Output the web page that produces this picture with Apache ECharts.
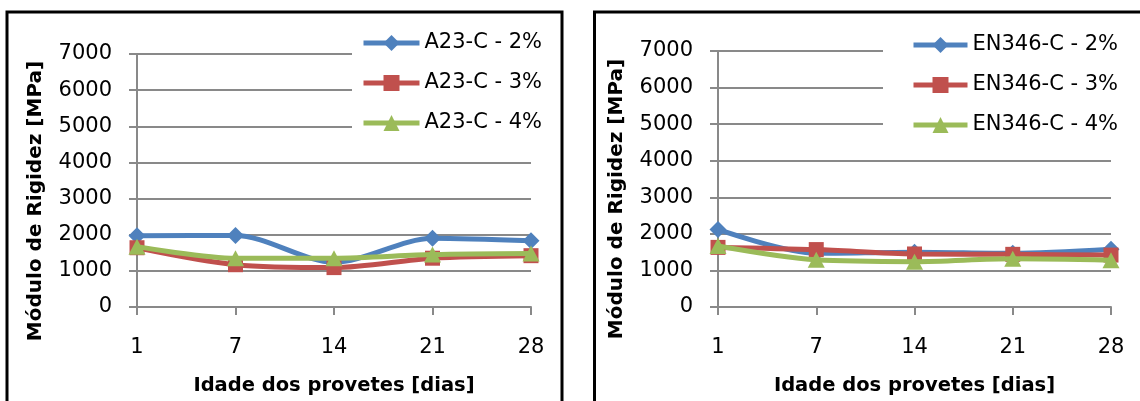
<!DOCTYPE html>
<html>
<head>
<meta charset="utf-8">
<script src="https://cdn.jsdelivr.net/npm/echarts@6/dist/echarts.min.js"></script>
<style>
html,body{margin:0;padding:0;background:#fff;}
#c{width:1140px;height:401px;}
</style>
</head>
<body>
<div id="c"></div>
<script>
// ---- data ----
const days = ['1', '7', '14', '21', '28'];
const yTicks = [0, 1000, 2000, 3000, 4000, 5000, 6000, 7000];
const namesA = ['A23-C - 2%', 'A23-C - 3%', 'A23-C - 4%'];
const namesE = ['EN346-C - 2%', 'EN346-C - 3%', 'EN346-C - 4%'];
const a23_2 = [1970, 1980, 1240, 1900, 1830];
const a23_3 = [1640, 1170, 1090, 1350, 1420];
const a23_4 = [1670, 1350, 1350, 1450, 1480];
const en_2 = [2120, 1470, 1500, 1470, 1580];
const en_3 = [1630, 1570, 1450, 1440, 1420];
const en_4 = [1670, 1290, 1240, 1320, 1280];
const xTitle = 'Idade dos provetes [dias]';
const yTitle = 'Módulo de Rigidez [MPa]';

const FONT = 'DejaVu Sans';
const colors = ['#4F81BD', '#C0504D', '#9BBB59'];
const symbols = ['diamond', 'rect', 'triangle'];
const symSizes = [[17, 17], [15, 15], [17, 16]];
const GRAY = '#898989';

function mkSeries(name, data, i, idx) {
  return {
    name: name, type: 'line', data: data,
    xAxisIndex: idx, yAxisIndex: idx,
    smooth: 0.3,
    symbol: symbols[i], symbolSize: symSizes[i],
    lineStyle: {color: colors[i], width: 5},
    itemStyle: {color: colors[i]},
    z: 2 + i
  };
}

function mkX(idx) {
  return {
    type: 'category', data: days, gridIndex: idx, boundaryGap: false,
    axisLine: {show: true, lineStyle: {color: GRAY, width: 2}},
    axisTick: {show: true, length: 8, alignWithLabel: true, lineStyle: {color: GRAY, width: 2}},
    axisLabel: {color: '#000', fontFamily: FONT, fontSize: 21, margin: 30},
    splitLine: {show: false},
    name: xTitle, nameLocation: 'middle', nameGap: 69,
    nameTextStyle: {color: '#000', fontFamily: FONT, fontSize: 19.5, fontWeight: 'bold'}
  };
}
function mkY(idx) {
  return {
    type: 'value', gridIndex: idx, min: yTicks[0], max: yTicks[yTicks.length - 1], interval: 1000,
    axisLine: {show: true, lineStyle: {color: GRAY, width: 2}},
    axisTick: {show: true, length: 8, lineStyle: {color: GRAY, width: 2}},
    axisLabel: {color: '#000', fontFamily: FONT, fontSize: 21, margin: 25, formatter: function (v) { return String(v); }},
    splitLine: {show: true, lineStyle: {color: GRAY, width: 2}}
  };
}
function mkLegend(names, left, top, padLeft, iw) {
  return {
    data: names, orient: 'vertical', left: left, top: top,
    backgroundColor: '#fff', padding: [6, 6, 10, padLeft],
    itemWidth: iw, itemHeight: 20, itemGap: 16,
    lineStyle: {width: 5},
    textStyle: {color: '#000', fontFamily: FONT, fontSize: 21, lineHeight: 24},
    z: 10
  };
}

const chart = echarts.init(document.getElementById('c'), null, {renderer: 'canvas'});
chart.setOption({
  animation: false,
  backgroundColor: '#fff',
  grid: [
    {left: 137, top: 54, width: 394, height: 261},
    {left: 718, top: 51, width: 393, height: 264}
  ],
  xAxis: [mkX(0), mkX(1)],
  yAxis: [mkY(0), mkY(1)],
  legend: [mkLegend(namesA, 352, 25, 9, 56), mkLegend(namesE, 883, 27, 28, 54)],
  series: [
    mkSeries(namesA[0], a23_2, 0, 0),
    mkSeries(namesA[1], a23_3, 1, 0),
    mkSeries(namesA[2], a23_4, 2, 0),
    mkSeries(namesE[0], en_2, 0, 1),
    mkSeries(namesE[1], en_3, 1, 1),
    mkSeries(namesE[2], en_4, 2, 1)
  ],
  graphic: [
    {type: 'rect', shape: {x: 7, y: 12, width: 555, height: 420}, style: {fill: 'none', stroke: '#000', lineWidth: 3}, silent: true, z: 20},
    {type: 'rect', shape: {x: 594.5, y: 12, width: 600, height: 420}, style: {fill: 'none', stroke: '#000', lineWidth: 3}, silent: true, z: 20},
    {type: 'text', x: 36, y: 201, rotation: Math.PI / 2, style: {text: yTitle, fill: '#000', font: 'bold 20px "DejaVu Sans"', align: 'center', verticalAlign: 'middle'}, z: 20},
    {type: 'text', x: 617, y: 199, rotation: Math.PI / 2, style: {text: yTitle, fill: '#000', font: 'bold 20px "DejaVu Sans"', align: 'center', verticalAlign: 'middle'}, z: 20}
  ]
});
</script>
</body>
</html>
